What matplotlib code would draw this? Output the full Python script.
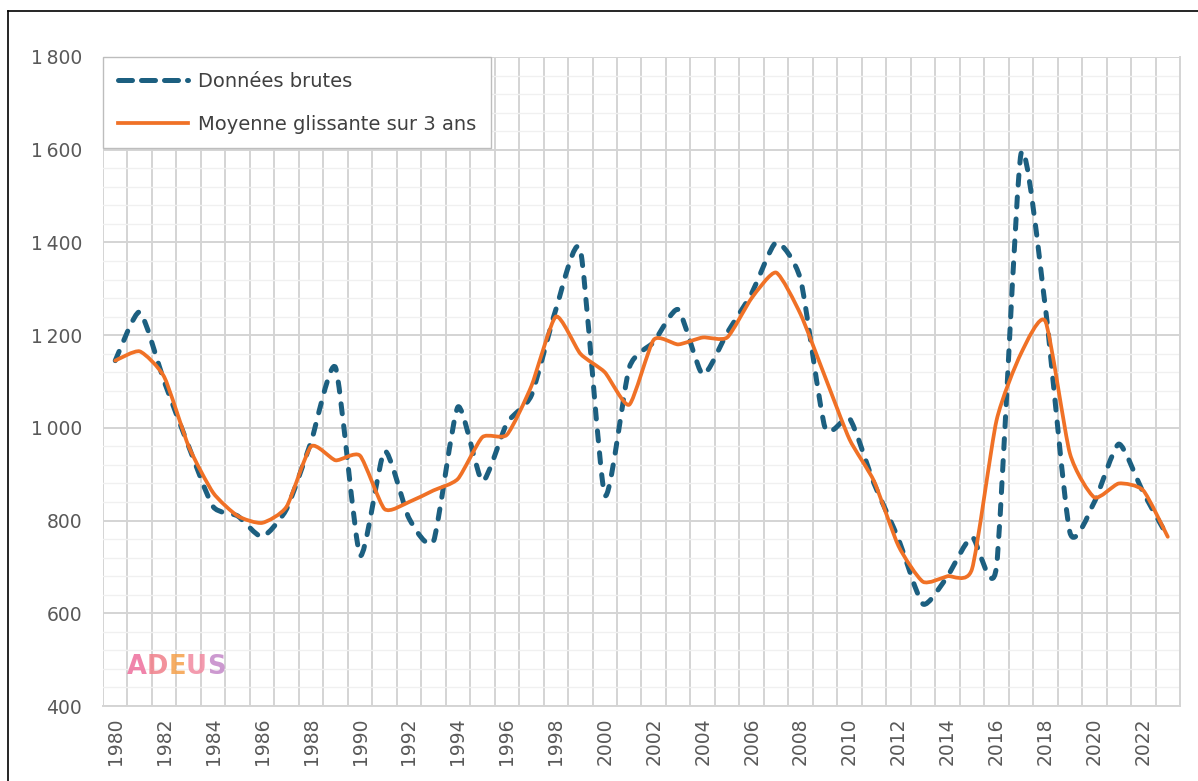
import numpy as np
import matplotlib
matplotlib.use('Agg')
from matplotlib import pyplot as plt
from matplotlib.path import Path
from matplotlib.patches import PathPatch
from matplotlib.lines import Line2D
from matplotlib.offsetbox import TextArea, HPacker, AnchoredOffsetbox
from matplotlib.ticker import MultipleLocator, FixedLocator, FuncFormatter

years = list(range(1980, 2024))
raw = [1145, 1250, 1100, 960, 830, 810, 765, 825, 970, 1130,
       725, 950, 805, 755, 1045, 885, 1010, 1070, 1255, 1385,
       855, 1130, 1185, 1255, 1115, 1205, 1290, 1400, 1320, 1000,
       1020, 880, 760, 620, 680, 765, 700, 1590, 1260, 775,
       840, 965, 860, 765]
avg = [1145, 1165, 1110, 960, 860, 810, 795, 830, 960, 930,
       940, 825, 840, 865, 890, 980, 985, 1090, 1240, 1160,
       1120, 1050, 1190, 1180, 1195, 1195, 1280, 1335, 1245, 1110,
       975, 885, 745, 668, 680, 695, 1015, 1160, 1230, 945,
       850, 880, 865, 765]
labels = ['Données brutes', 'Moyenne glissante sur 3 ans']
logo_letters = ['A', 'D', 'E', 'U', 'S']
logo_colors = ['#ee6f9c', '#f07f8a', '#f5a04a', '#f28aa0', '#c487c8']

BLUE = '#1c5f80'
ORANGE = '#f07126'
GRAY = '#595959'


# smoothed line through every point, like the spreadsheet's "smoothed line"
def smooth_path(xs, ys, k=0.1):
    pts = np.column_stack([xs, ys]).astype(float)
    n = len(pts)
    verts = [pts[0]]
    codes = [Path.MOVETO]
    for i in range(n - 1):
        p0 = pts[max(i - 1, 0)]
        p1 = pts[i]
        p2 = pts[i + 1]
        p3 = pts[min(i + 2, n - 1)]
        verts += [p1 + (p2 - p0) * k, p2 - (p3 - p1) * k, p2]
        codes += [Path.CURVE4] * 3
    return Path(verts, codes)


fig = plt.figure(figsize=(11.98, 7.81), dpi=100)
ax = fig.add_axes([103 / 1198, 1 - 706 / 781, (1180 - 103) / 1198, (706 - 57) / 781])

# frame of the original picture (left and top only)
fig.add_artist(Line2D([8 / 1198, 8 / 1198], [0, 1 - 11 / 781], color='black', lw=1.2))
fig.add_artist(Line2D([8 / 1198, 1], [1 - 11 / 781, 1 - 11 / 781], color='black', lw=1.2))

ax.set_xlim(years[0] - 0.5, years[-1] + 0.5)
ax.set_ylim(400, 1800)

ax.xaxis.set_major_locator(FixedLocator(years[::2]))
ax.xaxis.set_minor_locator(FixedLocator(np.arange(years[0] - 0.5, years[-1] + 1, 1)))
ax.yaxis.set_major_locator(MultipleLocator(200))
ax.yaxis.set_minor_locator(MultipleLocator(40))
ax.yaxis.set_major_formatter(FuncFormatter(lambda v, p: f'{v:,.0f}'.replace(',', '\u2009')))

ax.grid(False)
ax.grid(which='minor', axis='x', color='#d4d4d4', lw=1.4)
ax.grid(which='major', axis='y', color='#d4d4d4', lw=1.4)
ax.grid(which='minor', axis='y', color='#f0f0f0', lw=1.0)
ax.set_axisbelow(True)

for s in ['top', 'left']:
    ax.spines[s].set_visible(False)
ax.spines['bottom'].set_color('#d4d4d4')
ax.spines['bottom'].set_linewidth(1.4)
ax.spines['right'].set_color('#d4d4d4')
ax.spines['right'].set_linewidth(1.4)

ax.tick_params(axis='both', which='both', length=0, colors=GRAY, labelsize=13.5)
ax.tick_params(axis='y', pad=15)
ax.tick_params(axis='x', pad=8, labelrotation=90)

raw_patch = PathPatch(smooth_path(years, raw), fill=False, ec=BLUE, lw=3.6,
                      linestyle=(0, (2.0, 2.4)), capstyle='round', joinstyle='round', zorder=3)
avg_patch = PathPatch(smooth_path(years, avg), fill=False, ec=ORANGE, lw=2.7,
                      capstyle='round', joinstyle='round', zorder=4)
ax.add_patch(raw_patch)
ax.add_patch(avg_patch)

handles = [Line2D([], [], color=BLUE, lw=3.6, linestyle=(0, (2.8, 1.8)), dash_capstyle='round'),
           Line2D([], [], color=ORANGE, lw=2.7)]
leg = ax.legend(handles, labels, loc='upper left', bbox_to_anchor=(0, 1), borderaxespad=0,
                fontsize=14, handlelength=3.6, labelspacing=1.25, borderpad=0.75,
                handletextpad=0.55, fancybox=False, framealpha=1, edgecolor='#bdbdbd',
                labelcolor='#404040')
leg.get_frame().set_linewidth(1.0)

# ADEUS logo
boxes = [TextArea(c, textprops=dict(color=col, fontsize=18.5, fontweight='bold', alpha=0.85))
         for c, col in zip(logo_letters, logo_colors)]
logo = AnchoredOffsetbox(loc='lower left', child=HPacker(children=boxes, pad=0, sep=0),
                         bbox_to_anchor=(127 / 1198, 1 - 680 / 781), bbox_transform=fig.transFigure,
                         frameon=False, pad=0, borderpad=0)
ax.add_artist(logo)

fig.savefig('out.png', dpi=100)
